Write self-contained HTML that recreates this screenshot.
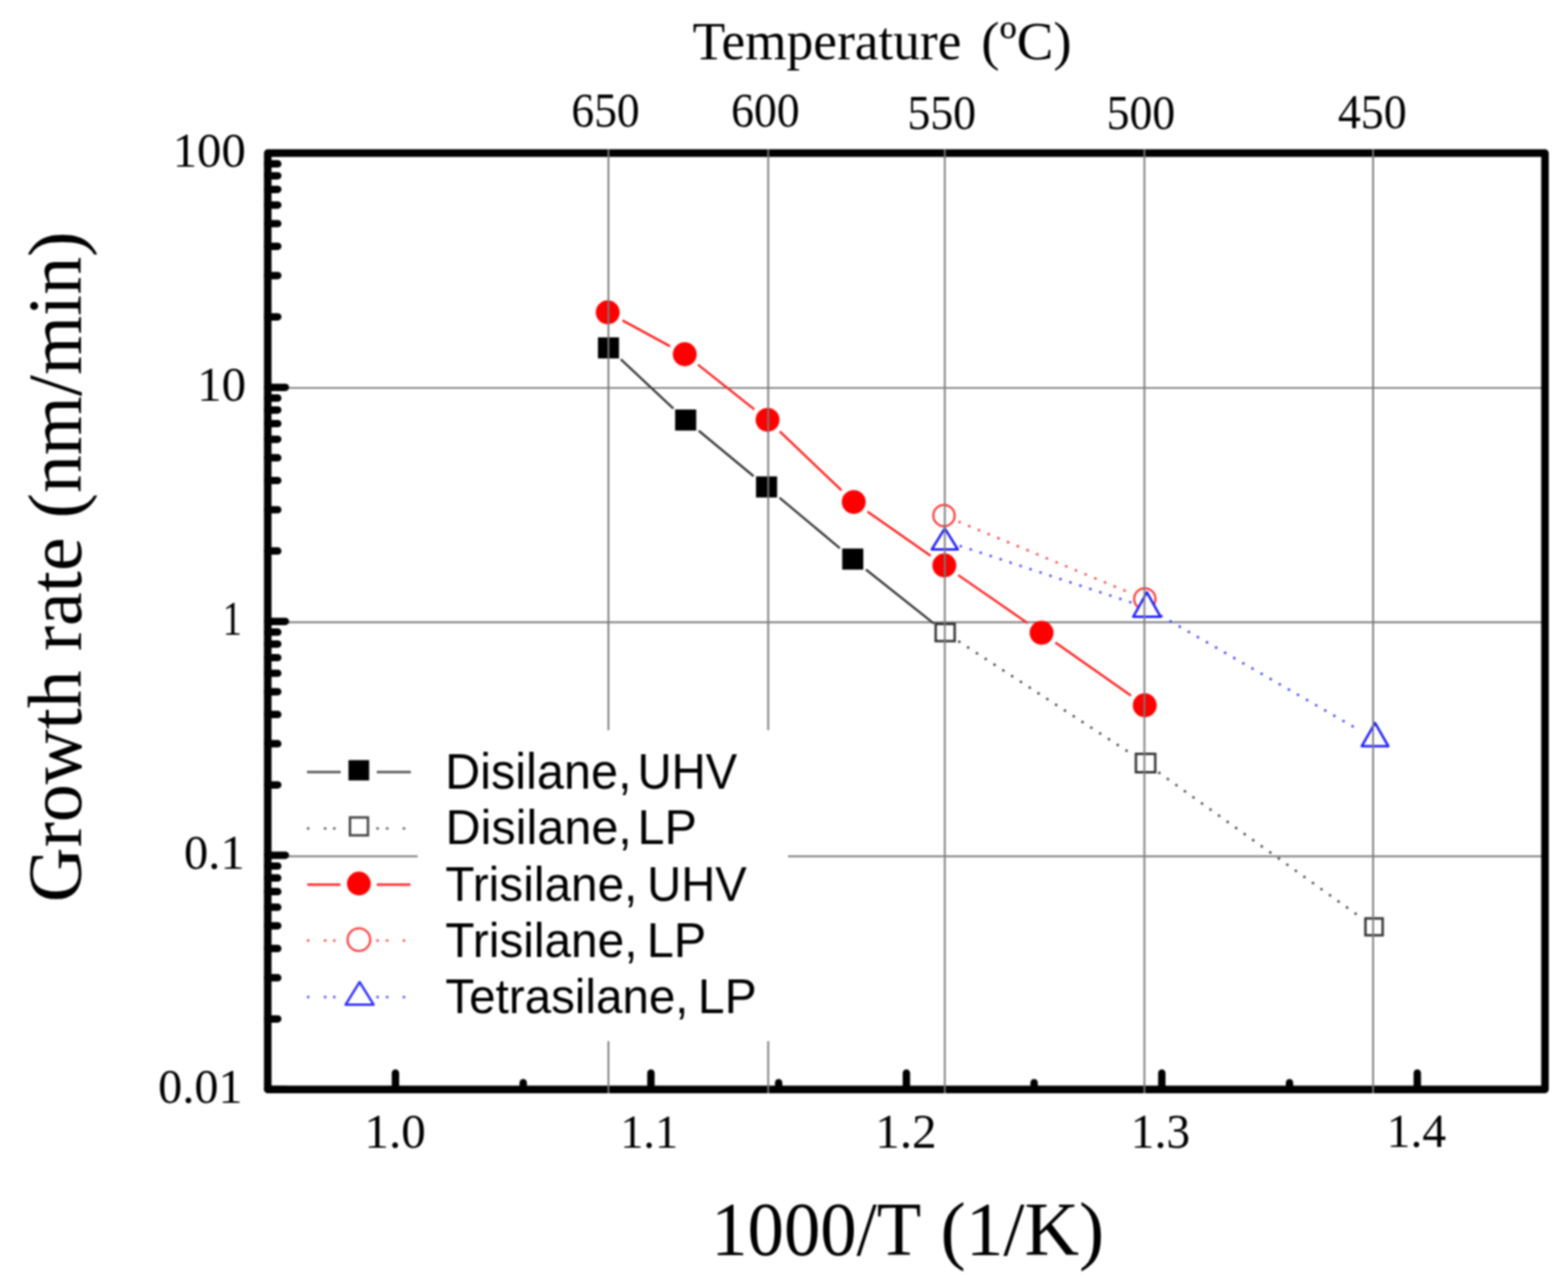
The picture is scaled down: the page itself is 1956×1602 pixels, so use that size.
<!DOCTYPE html>
<html><head><meta charset="utf-8"><title>Growth rate vs 1000/T</title>
<style>html,body{margin:0;padding:0;background:#fff;overflow:hidden}svg{display:block;filter:blur(1.3px)}</style>
</head><body>
<svg width="1956" height="1602" viewBox="0 0 1956 1602"><rect x="0" y="0" width="1956" height="1602" fill="#fff"/><line x1="334.0" y1="484.0" x2="1927.3" y2="484.0" stroke="#7a7a7a" stroke-width="2.2"/><line x1="334.0" y1="776.4" x2="1927.3" y2="776.4" stroke="#7a7a7a" stroke-width="2.2"/><line x1="334.0" y1="1068.3" x2="1927.3" y2="1068.3" stroke="#7a7a7a" stroke-width="2.2"/><rect x="521" y="911" width="462" height="388" fill="#fff"/><line x1="774.4" y1="448.3" x2="840.0" y2="509.7" stroke="#333" stroke-width="2.7"/><line x1="871.6" y1="537.4" x2="940.1" y2="594.1" stroke="#333" stroke-width="2.7"/><line x1="972.4" y1="621.0" x2="1047.7" y2="684.0" stroke="#333" stroke-width="2.7"/><line x1="1080.2" y1="710.6" x2="1165.0" y2="778.0" stroke="#333" stroke-width="2.7"/><line x1="1196.7" y1="800.7" x2="1411.5" y2="940.6" stroke="#444" stroke-width="3.2" stroke-dasharray="0.1 13" stroke-linecap="round"/><line x1="1446.2" y1="964.3" x2="1697.0" y2="1144.2" stroke="#444" stroke-width="3.2" stroke-dasharray="0.1 13" stroke-linecap="round"/><line x1="776.5" y1="399.7" x2="835.8" y2="432.0" stroke="#ff1a1a" stroke-width="2.7"/><line x1="870.7" y1="455.0" x2="941.0" y2="510.8" stroke="#ff1a1a" stroke-width="2.7"/><line x1="972.7" y1="538.3" x2="1049.8" y2="611.8" stroke="#ff1a1a" stroke-width="2.7"/><line x1="1082.2" y1="638.4" x2="1160.8" y2="693.4" stroke="#ff1a1a" stroke-width="2.7"/><line x1="1195.3" y1="717.5" x2="1282.0" y2="777.5" stroke="#ff1a1a" stroke-width="2.7"/><line x1="1316.5" y1="801.6" x2="1410.8" y2="867.9" stroke="#ff1a1a" stroke-width="2.7"/><line x1="1197.0" y1="651.4" x2="1408.7" y2="739.2" stroke="#ff4040" stroke-width="3.2" stroke-dasharray="0.1 13" stroke-linecap="round"/><line x1="1198.5" y1="681.4" x2="1410.8" y2="751.6" stroke="#4040ff" stroke-width="3.2" stroke-dasharray="0.1 13" stroke-linecap="round"/><line x1="1448.9" y1="768.7" x2="1697.1" y2="911.8" stroke="#4040ff" stroke-width="3.2" stroke-dasharray="0.1 13" stroke-linecap="round"/><rect x="745.9" y="420.9" width="26.3" height="26.3" fill="#000"/><rect x="842.2" y="510.9" width="26.3" height="26.3" fill="#000"/><rect x="943.1" y="594.4" width="26.3" height="26.3" fill="#000"/><rect x="1050.6" y="684.4" width="26.3" height="26.3" fill="#000"/><rect x="1167.2" y="778.5" width="23.7" height="21.4" fill="#fff" stroke="#333" stroke-width="3"/><rect x="1417.0" y="940.6" width="24.1" height="22.9" fill="#fff" stroke="#333" stroke-width="3"/><rect x="1703.3" y="1145.9" width="21.5" height="21.0" fill="#fff" stroke="#333" stroke-width="3"/><circle cx="758.1" cy="389.7" r="14.9" fill="#ff0000"/><circle cx="854.2" cy="442.0" r="14.9" fill="#ff0000"/><circle cx="957.5" cy="523.8" r="14.9" fill="#ff0000"/><circle cx="1065.0" cy="626.3" r="14.9" fill="#ff0000"/><circle cx="1178.0" cy="705.5" r="14.9" fill="#ff0000"/><circle cx="1299.3" cy="789.5" r="14.9" fill="#ff0000"/><circle cx="1428.0" cy="880.0" r="14.9" fill="#ff0000"/><circle cx="1177.6" cy="643.3" r="13.3" fill="#fff" stroke="#ff3333" stroke-width="2.6"/><circle cx="1428.1" cy="747.3" r="13.3" fill="#fff" stroke="#ff3333" stroke-width="2.6"/><path d="M1178.6 659.3L1194.8 685.4H1162.4Z" fill="#fff" stroke="#2020ff" stroke-width="3" stroke-linejoin="round"/><path d="M1430.7 739.0L1447.7 769.6H1413.7Z" fill="#fff" stroke="#2020ff" stroke-width="3" stroke-linejoin="round"/><path d="M1715.3 902.1L1731.9 931.0H1698.7Z" fill="#fff" stroke="#2020ff" stroke-width="3" stroke-linejoin="round"/><path d="M334.0 1359.3H356.0 M334.0 1271.3H346.5 M334.0 1219.9H346.5 M334.0 1183.4H346.5 M334.0 1155.1H346.5 M334.0 1131.9H346.5 M334.0 1112.4H346.5 M334.0 1095.4H346.5 M334.0 1080.5H346.5 M334.0 1067.1H356.0 M334.0 979.3H346.5 M334.0 927.9H346.5 M334.0 891.4H346.5 M334.0 863.1H346.5 M334.0 840.0H346.5 M334.0 820.5H346.5 M334.0 803.6H346.5 M334.0 788.7H346.5 M334.0 775.3H356.0 M334.0 687.4H346.5 M334.0 636.0H346.5 M334.0 599.5H346.5 M334.0 571.2H346.5 M334.0 548.1H346.5 M334.0 528.5H346.5 M334.0 511.6H346.5 M334.0 496.7H346.5 M334.0 483.3H356.0 M334.0 395.3H346.5 M334.0 343.8H346.5 M334.0 307.3H346.5 M334.0 279.0H346.5 M334.0 255.8H346.5 M334.0 236.3H346.5 M334.0 219.3H346.5 M334.0 204.4H346.5 M493.3 1359.3V1338.8 M652.7 1359.3V1350.8 M812.0 1359.3V1338.8 M971.3 1359.3V1350.8 M1130.7 1359.3V1338.8 M1290.0 1359.3V1350.8 M1449.3 1359.3V1338.8 M1608.6 1359.3V1350.8 M1768.0 1359.3V1338.8" stroke="#000" stroke-width="9.2" stroke-linecap="round" fill="none"/><rect x="334.0" y="191.0" width="1593.3" height="1168.3" fill="none" stroke="#000" stroke-width="9.4" stroke-linejoin="round"/><path d="M759.0 186.3V911M759.0 1299V1364.0" stroke="#7a7a7a" stroke-width="2.2"/><path d="M958.3 186.3V911M958.3 1299V1364.0" stroke="#7a7a7a" stroke-width="2.2"/><line x1="1178.6" y1="186.3" x2="1178.6" y2="1364.0" stroke="#7a7a7a" stroke-width="2.2"/><line x1="1427.6" y1="186.3" x2="1427.6" y2="1364.0" stroke="#7a7a7a" stroke-width="2.2"/><line x1="1712.9" y1="186.3" x2="1712.9" y2="1364.0" stroke="#7a7a7a" stroke-width="2.2"/><path d="M383 963.2H425M470 963.2H512.5" stroke="#555" stroke-width="3"/><rect x="434.7" y="948.4" width="25.8" height="25.3" fill="#000"/><circle cx="384.4" cy="1033.6" r="1.7" fill="#555"/><circle cx="405.6" cy="1033.6" r="1.7" fill="#555"/><circle cx="417.0" cy="1033.6" r="1.7" fill="#555"/><circle cx="471" cy="1033.6" r="1.7" fill="#555"/><circle cx="483.0" cy="1033.6" r="1.7" fill="#555"/><circle cx="503.9" cy="1033.6" r="1.7" fill="#555"/><rect x="436.6" y="1019.9" width="22.4" height="22.3" fill="#fff" stroke="#444" stroke-width="3"/><path d="M383.3 1103.7H424.8M469.9 1103.7H512" stroke="#ff2a2a" stroke-width="3"/><circle cx="447.7" cy="1102.4" r="14.8" fill="#ff0000"/><circle cx="384.4" cy="1173.5" r="1.7" fill="#ff5050"/><circle cx="405.6" cy="1173.5" r="1.7" fill="#ff5050"/><circle cx="417.0" cy="1173.5" r="1.7" fill="#ff5050"/><circle cx="471" cy="1173.5" r="1.7" fill="#ff5050"/><circle cx="483.0" cy="1173.5" r="1.7" fill="#ff5050"/><circle cx="503.9" cy="1173.5" r="1.7" fill="#ff5050"/><circle cx="447.7" cy="1172.4" r="14.1" fill="#fff" stroke="#ff3a3a" stroke-width="2.6"/><circle cx="384.4" cy="1244.0" r="1.7" fill="#5050ff"/><circle cx="405.6" cy="1244.0" r="1.7" fill="#5050ff"/><circle cx="417.0" cy="1244.0" r="1.7" fill="#5050ff"/><circle cx="471" cy="1244.0" r="1.7" fill="#5050ff"/><circle cx="483.0" cy="1244.0" r="1.7" fill="#5050ff"/><circle cx="503.9" cy="1244.0" r="1.7" fill="#5050ff"/><path d="M448.6 1225.3L466.1 1253.5H431.1Z" fill="#fff" stroke="#3030ff" stroke-width="3" stroke-linejoin="round"/><text transform="translate(555.30,983.70) scale(0.9691,1)" font-family="'Liberation Sans',Arial,sans-serif" font-size="62.55" xml:space="preserve">Disilane,</text><text transform="translate(795.13,983.70) scale(0.9431,1)" font-family="'Liberation Sans',Arial,sans-serif" font-size="62.55" xml:space="preserve">UHV</text><text transform="translate(555.70,1053.30) scale(0.9950,1)" font-family="'Liberation Sans',Arial,sans-serif" font-size="60.95" xml:space="preserve">Disilane,</text><text transform="translate(795.31,1053.30) scale(0.9928,1)" font-family="'Liberation Sans',Arial,sans-serif" font-size="60.95" xml:space="preserve">LP</text><text transform="translate(555.56,1123.80) scale(0.9642,1)" font-family="'Liberation Sans',Arial,sans-serif" font-size="61.82" xml:space="preserve">Trisilane,</text><text transform="translate(807.14,1123.80) scale(0.9526,1)" font-family="'Liberation Sans',Arial,sans-serif" font-size="61.82" xml:space="preserve">UHV</text><text transform="translate(555.56,1193.70) scale(0.9765,1)" font-family="'Liberation Sans',Arial,sans-serif" font-size="61.09" xml:space="preserve">Trisilane,</text><text transform="translate(806.69,1193.70) scale(0.9949,1)" font-family="'Liberation Sans',Arial,sans-serif" font-size="61.09" xml:space="preserve">LP</text><text transform="translate(555.57,1263.60) scale(0.9802,1)" font-family="'Liberation Sans',Arial,sans-serif" font-size="60.51" xml:space="preserve">Tetrasilane,</text><text transform="translate(870.55,1263.60) scale(0.9908,1)" font-family="'Liberation Sans',Arial,sans-serif" font-size="60.51" xml:space="preserve">LP</text><text transform="translate(215.38,207.68) scale(0.9818,1)" font-family="'Liberation Serif','Times New Roman',serif" font-size="61.93" xml:space="preserve">100</text><text transform="translate(245.97,499.59) scale(0.9932,1)" font-family="'Liberation Serif','Times New Roman',serif" font-size="61.33" xml:space="preserve">10</text><text transform="translate(277.78,792.20) scale(0.7840,1)" font-family="'Liberation Serif','Times New Roman',serif" font-size="61.52" xml:space="preserve">1</text><text transform="translate(229.53,1083.88) scale(0.9853,1)" font-family="'Liberation Serif','Times New Roman',serif" font-size="61.47" xml:space="preserve">0.1</text><text transform="translate(197.34,1375.89) scale(0.9928,1)" font-family="'Liberation Serif','Times New Roman',serif" font-size="60.59" xml:space="preserve">0.01</text><text transform="translate(454.53,1432.49) scale(1.0123,1)" font-family="'Liberation Serif','Times New Roman',serif" font-size="60.59" xml:space="preserve">1.0</text><text transform="translate(773.64,1431.61) scale(0.9741,1)" font-family="'Liberation Serif','Times New Roman',serif" font-size="59.41" xml:space="preserve">1.1</text><text transform="translate(1091.84,1431.60) scale(1.0181,1)" font-family="'Liberation Serif','Times New Roman',serif" font-size="60.22" xml:space="preserve">1.2</text><text transform="translate(1410.62,1432.28) scale(0.9672,1)" font-family="'Liberation Serif','Times New Roman',serif" font-size="61.25" xml:space="preserve">1.3</text><text transform="translate(1729.69,1431.12) scale(1.0095,1)" font-family="'Liberation Serif','Times New Roman',serif" font-size="58.96" xml:space="preserve">1.4</text><text transform="translate(712.78,158.08) scale(0.9221,1)" font-family="'Liberation Serif','Times New Roman',serif" font-size="61.63" xml:space="preserve">650</text><text transform="translate(911.88,158.38) scale(0.9189,1)" font-family="'Liberation Serif','Times New Roman',serif" font-size="62.07" xml:space="preserve">600</text><text transform="translate(1131.91,160.58) scale(0.9285,1)" font-family="'Liberation Serif','Times New Roman',serif" font-size="61.63" xml:space="preserve">550</text><text transform="translate(1380.52,160.59) scale(0.9318,1)" font-family="'Liberation Serif','Times New Roman',serif" font-size="61.19" xml:space="preserve">500</text><text transform="translate(1669.06,160.39) scale(0.9314,1)" font-family="'Liberation Serif','Times New Roman',serif" font-size="61.33" xml:space="preserve">450</text><text transform="translate(864.04,73.70) scale(0.9820,1)" font-family="'Liberation Serif','Times New Roman',serif" font-size="67.78" xml:space="preserve">Temperature</text><text transform="translate(1224.11,73.82) scale(1.0223,1)" font-family="'Liberation Serif','Times New Roman',serif" font-size="67.18" xml:space="preserve">(ºC)</text><text transform="translate(887.27,1565.85) scale(0.9613,1)" font-family="'Liberation Serif','Times New Roman',serif" font-size="94.27" xml:space="preserve">1000/T</text><text transform="translate(1173.26,1565.85) scale(1.0002,1)" font-family="'Liberation Serif','Times New Roman',serif" font-size="94.27" xml:space="preserve">(1/K)</text><text transform="translate(101.16,1125.79) rotate(-90) scale(1.0047,1)" font-family="'Liberation Serif','Times New Roman',serif" font-size="94.33" xml:space="preserve">Growth rate (nm/min)</text></svg>
</body></html>
